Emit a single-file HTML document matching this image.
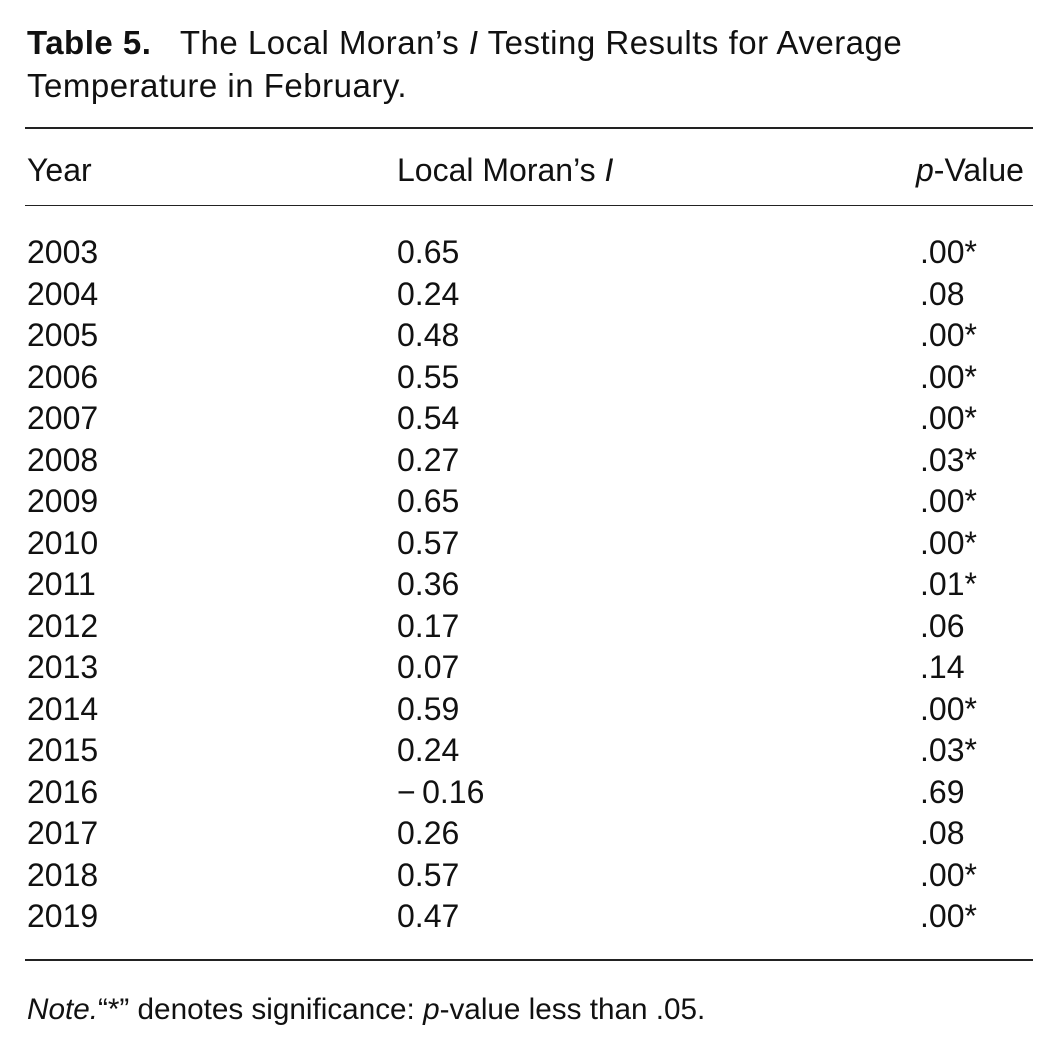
<!DOCTYPE html>
<html><head><meta charset="utf-8"><style>
body{margin:0;width:1059px;height:1053px;background:#fff;color:#111;font-family:"Liberation Sans",sans-serif;position:relative;overflow:hidden}
.t{position:absolute;white-space:nowrap;font-size:32px;line-height:1}
.r{position:absolute;left:25px;width:1008px;background:#222}
</style></head><body>
<div class="t" style="left:27px;top:26px;font-size:33px;letter-spacing:0.5px"><b>Table 5.</b>&nbsp;&nbsp; The Local Moran’s <i>I</i> Testing Results for Average</div>
<div class="t" style="left:27px;top:69px;font-size:33px;letter-spacing:0.5px">Temperature in February.</div>
<div class="r" style="top:127px;height:2px"></div>
<div class="t" style="left:27px;top:154px;">Year</div>
<div class="t" style="left:397px;top:154px;">Local Moran’s <i>I</i></div>
<div class="t" style="left:916px;top:154px;"><i>p</i>-Value</div>
<div class="r" style="top:205px;height:1px"></div>
<div id="rows"></div>
<div class="r" style="top:959px;height:2px"></div>
<div class="t" style="left:27px;top:995px;font-size:29.7px"><i>Note.</i>“*” denotes significance: <i>p</i>-value less than .05.</div>
<script>
var d=[["2003","0.65",".00*"],["2004","0.24",".08"],["2005","0.48",".00*"],["2006","0.55",".00*"],["2007","0.54",".00*"],["2008","0.27",".03*"],["2009","0.65",".00*"],["2010","0.57",".00*"],["2011","0.36",".01*"],["2012","0.17",".06"],["2013","0.07",".14"],["2014","0.59",".00*"],["2015","0.24",".03*"],["2016","\u2212\u20090.16",".69"],["2017","0.26",".08"],["2018","0.57",".00*"],["2019","0.47",".00*"]];
var h="";d.forEach(function(r,i){var y=236+i*41.5;
h+='<div class="t" style="left:27px;top:'+y+'px">'+r[0]+'</div><div class="t" style="left:397px;top:'+y+'px">'+r[1]+'</div><div class="t" style="left:920px;top:'+y+'px">'+r[2]+'</div>';});
document.getElementById("rows").outerHTML=h;
</script>
</body></html>
